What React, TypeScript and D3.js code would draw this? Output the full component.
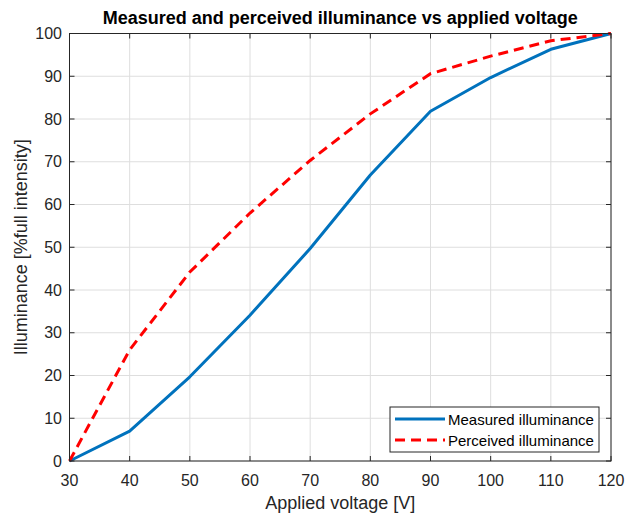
import React from "react";
import * as d3 from "d3";

const voltage = [30, 40, 50, 60, 70, 80, 90, 100, 110, 120];
const measured = [0, 7, 19.7, 34.1, 49.7, 66.9, 81.8, 89.7, 96.3, 100];
const perceived = [0, 26, 44.2, 58, 70.3, 81.2, 90.6, 94.7, 98.3, 100];
const xTicks = [30, 40, 50, 60, 70, 80, 90, 100, 110, 120];
const yTicks = [0, 10, 20, 30, 40, 50, 60, 70, 80, 90, 100];
const seriesNames = ["Measured illuminance", "Perceived illuminance"];

const W = 626, H = 515;
const L = 69.5, R = 611, T = 33.5, B = 461;
const axisColor = "#262626";
const font = "'Liberation Sans', Arial, Helvetica, sans-serif";

export default function App() {
  const x = d3.scaleLinear().domain([30, 120]).range([L, R]);
  const y = d3.scaleLinear().domain([0, 100]).range([B, T]);
  const line = d3.line<number>().x((_, i) => x(voltage[i])).y((d) => y(d));
  const tl = 5;
  return (
    <svg width={W} height={H} style={{ position: "absolute", left: 0, top: 0, background: "#fff" }}>
      <rect x={0} y={0} width={W} height={H} fill="#fff" />
      {xTicks.map((t) => (
        <line key={"gx" + t} x1={x(t)} x2={x(t)} y1={T} y2={B} stroke="#dedede" strokeWidth={1} />
      ))}
      {yTicks.map((t) => (
        <line key={"gy" + t} x1={L} x2={R} y1={y(t)} y2={y(t)} stroke="#dedede" strokeWidth={1} />
      ))}
      <path d={line(measured) || ""} fill="none" stroke="#0072BD" strokeWidth={3} strokeLinejoin="round" />
      <path d={line(perceived) || ""} fill="none" stroke="#FF0000" strokeWidth={3} strokeDasharray="10,6" />
      <rect x={L} y={T} width={R - L} height={B - T} fill="none" stroke={axisColor} strokeWidth={1} />
      {xTicks.map((t) => (
        <g key={"tx" + t}>
          <line x1={x(t)} x2={x(t)} y1={B} y2={B - tl} stroke={axisColor} />
          <line x1={x(t)} x2={x(t)} y1={T} y2={T + tl} stroke={axisColor} />
          <text x={x(t)} y={B + 25} textAnchor="middle" fontFamily={font} fontSize={16} fill={axisColor}>{t}</text>
        </g>
      ))}
      {yTicks.map((t) => (
        <g key={"ty" + t}>
          <line x1={L} x2={L + tl} y1={y(t)} y2={y(t)} stroke={axisColor} />
          <line x1={R} x2={R - tl} y1={y(t)} y2={y(t)} stroke={axisColor} />
          <text x={L - 7.5} y={y(t) + 5.5} textAnchor="end" fontFamily={font} fontSize={16} fill={axisColor}>{t}</text>
        </g>
      ))}
      <text x={(L + R) / 2} y={24} textAnchor="middle" fontFamily={font} fontSize={18} fontWeight="bold" fill="#000">
        Measured and perceived illuminance vs applied voltage
      </text>
      <text x={(L + R) / 2} y={509} textAnchor="middle" fontFamily={font} fontSize={18} fill={axisColor}>
        Applied voltage [V]
      </text>
      <text transform={`translate(27,${(T + B) / 2}) rotate(-90)`} textAnchor="middle" fontFamily={font} fontSize={18} fill={axisColor}>
        Illuminance [%full intensity]
      </text>
      <g>
        <rect x={390} y={407} width={209} height={45} fill="#fff" stroke={axisColor} strokeWidth={1} />
        <line x1={395} x2={445} y1={419} y2={419} stroke="#0072BD" strokeWidth={3} />
        <line x1={395} x2={445} y1={440} y2={440} stroke="#FF0000" strokeWidth={3} strokeDasharray="10,6" />
        <text x={448} y={424.5} fontFamily={font} fontSize={15} fill="#000">{seriesNames[0]}</text>
        <text x={448} y={445.5} fontFamily={font} fontSize={15} fill="#000">{seriesNames[1]}</text>
      </g>
    </svg>
  );
}
